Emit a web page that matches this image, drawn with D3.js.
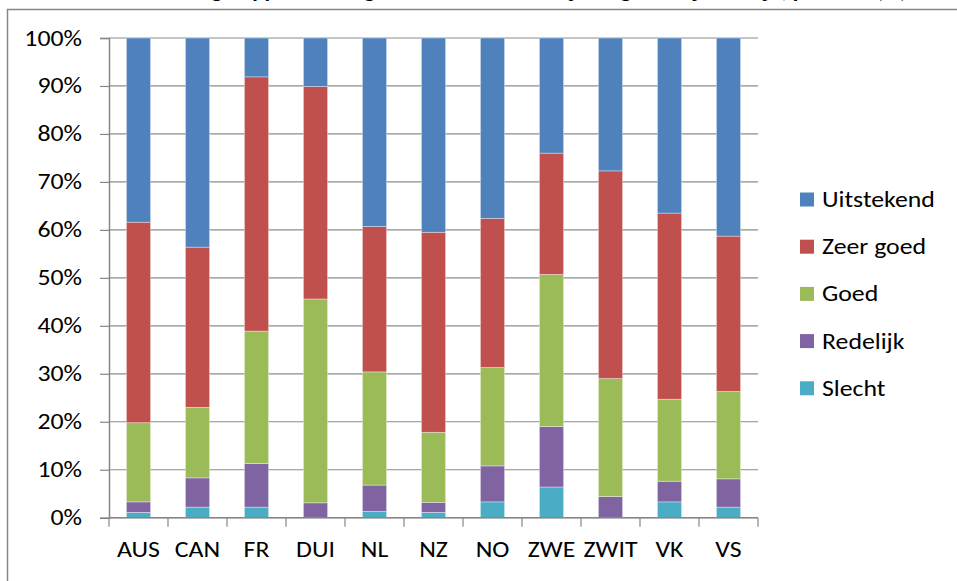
<!DOCTYPE html>
<html>
<head>
<meta charset="utf-8">
<script src="https://cdn.jsdelivr.net/npm/d3@7"></script>
<style>
  html, body { margin: 0; padding: 0; background: #fff; overflow: hidden; }
  text { font-family: Carlito, Calibri, Lato, "Open Sans", sans-serif; fill: #000; }
</style>
</head>
<body>
<div id="chart"></div>
<script>
// categories and series (percentages)
var landen = ["AUS", "CAN", "FR", "DUI", "NL", "NZ", "NO", "ZWE", "ZWIT", "VK", "VS"];
var reeksen = ["Slecht", "Redelijk", "Goed", "Zeer goed", "Uitstekend"];
var slecht     = [1.1, 2.2, 2.2, 0.0, 1.3, 1.1, 3.3, 6.4, 0.0, 3.3, 2.2];
var redelijk   = [2.2, 6.1, 9.1, 3.1, 5.5, 2.1, 7.5, 12.6, 4.4, 4.3, 5.9];
var goed       = [16.5, 14.7, 27.6, 42.5, 23.6, 14.6, 20.5, 31.7, 24.6, 17.1, 18.2];
var zeerGoed   = [41.8, 33.4, 53.0, 44.3, 30.3, 41.7, 31.1, 25.3, 43.3, 38.8, 32.4];
var uitstekend = [38.4, 43.6, 8.1, 10.1, 39.3, 40.5, 37.6, 24.0, 27.7, 36.5, 41.3];
var yTicks = [0, 10, 20, 30, 40, 50, 60, 70, 80, 90, 100];
var kleuren = ["#4BACC6", "#8064A2", "#9BBB59", "#C0504D", "#4F81BD"];

var W = 957, H = 581;
var rek = 1.2; // the original picture is stretched sideways
var fs = 21.5;

var svg = d3.select("#chart").append("svg")
    .attr("width", W)
    .attr("height", H)
    .style("display", "block");

// text placed at (px,py), stretched horizontally like the reference
function plaats(px, py) {
  return "translate(" + px + "," + py + ") scale(" + rek + ",1)";
}

// chart frame (runs past the right and bottom edge)
svg.append("rect")
    .attr("x", 7.5).attr("y", 9.5)
    .attr("width", W + 20).attr("height", H + 20)
    .attr("fill", "none")
    .attr("stroke", "#868686")
    .attr("stroke-width", 1.5);

// title, cut off by the top of the picture
svg.append("text")
    .attr("transform", plaats(542, -2))
    .attr("text-anchor", "middle")
    .attr("font-weight", "bold")
    .attr("font-size", 19)
    .text("Zelfgerapporteerde gezondheid: lichamelijk en geestelijk welzijn, per land (%)");

var plotLeft = 109, plotRight = 758, plotTop = 38, plotBottom = 517.7;

var x = d3.scaleBand().domain(landen).range([plotLeft, plotRight]).paddingInner(0.59).paddingOuter(0.295);
var y = d3.scaleLinear().domain([0, 100]).range([plotBottom, plotTop]);

// gridlines
svg.append("g").selectAll("line")
    .data(yTicks)
    .enter().append("line")
    .attr("x1", plotLeft).attr("x2", plotRight)
    .attr("y1", function(d) { return y(d); })
    .attr("y2", function(d) { return y(d); })
    .attr("stroke", "#8c8c8c")
    .attr("stroke-width", 1.2);

// stacked bars
var rijen = landen.map(function(l, i) {
  return { land: l, "Slecht": slecht[i], "Redelijk": redelijk[i], "Goed": goed[i],
           "Zeer goed": zeerGoed[i], "Uitstekend": uitstekend[i] };
});
var stack = d3.stack().keys(reeksen)(rijen);

svg.append("g").selectAll("g")
    .data(stack)
    .enter().append("g")
    .attr("fill", function(d, i) { return kleuren[i]; })
    .selectAll("rect")
    .data(function(d) { return d; })
    .enter().append("rect")
    .attr("x", function(d) { return x(d.data.land); })
    .attr("width", x.bandwidth())
    .attr("y", function(d) { return y(d[1]); })
    .attr("height", function(d) { return Math.max(0, y(d[0]) - y(d[1])); })
    .attr("stroke", "rgba(255,255,255,0.45)")
    .attr("stroke-width", 0.8);

// y axis
var yAxis = d3.axisLeft(y)
    .tickValues(yTicks)
    .tickSize(9)
    .tickFormat("");
var ya = svg.append("g")
    .attr("transform", "translate(" + plotLeft + ",0)")
    .call(yAxis);
ya.select(".domain").attr("stroke", "#868686").attr("stroke-width", 1.5);
ya.selectAll(".tick line").attr("stroke", "#868686").attr("stroke-width", 1.2);

svg.append("g").selectAll("text")
    .data(yTicks)
    .enter().append("text")
    .attr("transform", function(d) { return plaats(82, y(d) + 7.5); })
    .attr("text-anchor", "end")
    .attr("font-size", fs)
    .text(function(d) { return d + "%"; });

// x axis: ticks on the band edges
var xa = svg.append("g").attr("transform", "translate(0," + plotBottom + ")");
xa.append("line")
    .attr("x1", plotLeft).attr("x2", plotRight)
    .attr("stroke", "#868686").attr("stroke-width", 1.5);
var randen = landen.map(function(l) { return x(l) - x.step() * 0.295; }).concat([plotRight]);
xa.selectAll("line.tk")
    .data(randen)
    .enter().append("line")
    .attr("class", "tk")
    .attr("x1", function(d) { return d; }).attr("x2", function(d) { return d; })
    .attr("y1", 0).attr("y2", 9)
    .attr("stroke", "#868686").attr("stroke-width", 1.2);
xa.selectAll("text")
    .data(landen)
    .enter().append("text")
    .attr("transform", function(d) { return plaats(x(d) + x.bandwidth() / 2, 39); })
    .attr("text-anchor", "middle")
    .attr("font-size", fs)
    .text(function(d) { return d; });

// legend (top to bottom: Uitstekend ... Slecht)
var legenda = reeksen.slice().reverse();
var lg = svg.append("g").selectAll("g")
    .data(legenda)
    .enter().append("g")
    .attr("transform", function(d, i) { return "translate(800," + (199.5 + i * 47.2) + ")"; });
lg.append("rect")
    .attr("x", 0).attr("y", -7)
    .attr("width", 14).attr("height", 14)
    .attr("fill", function(d) { return kleuren[reeksen.indexOf(d)]; });
lg.append("text")
    .attr("transform", plaats(22, 7.5))
    .attr("font-size", fs)
    .text(function(d) { return d; });
</script>
</body>
</html>
